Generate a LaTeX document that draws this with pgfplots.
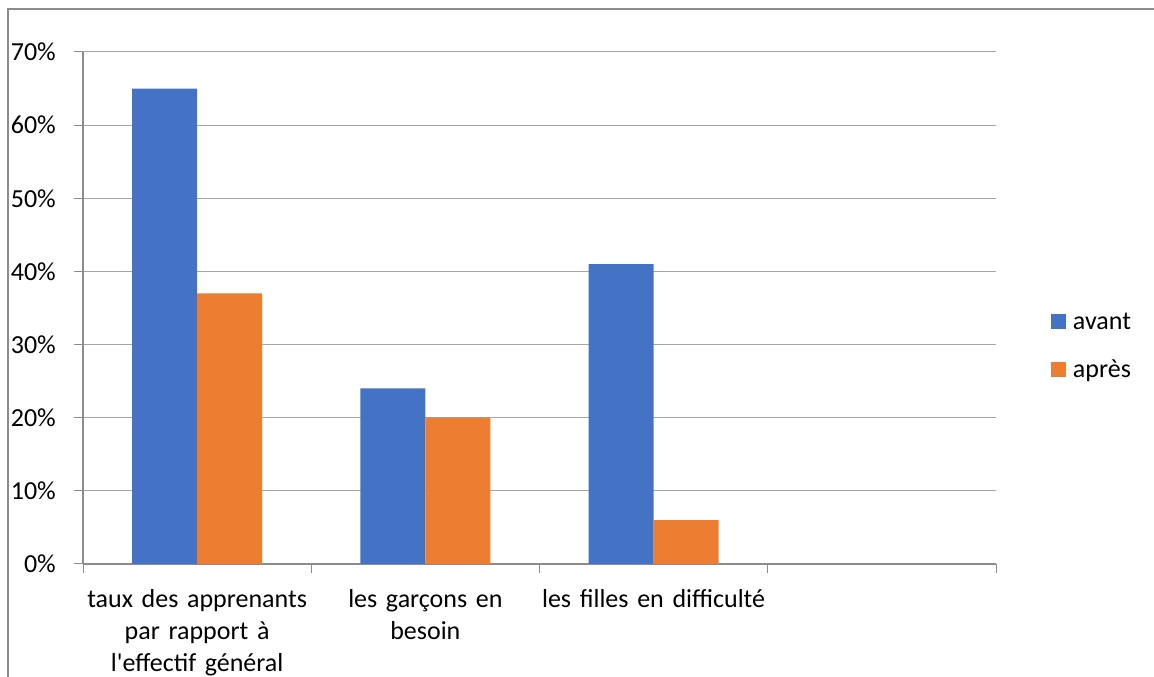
\documentclass[border=0pt]{standalone}
\usepackage{fontspec}
\setmainfont{Carlito}[Ligatures=TeXOff]
\usepackage{pgfplots}
\pgfplotsset{compat=1.18}
\definecolor{cblue}{HTML}{4472C4}
\definecolor{corange}{HTML}{ED7D31}
\definecolor{gridc}{RGB}{166,166,166}
\definecolor{axc}{RGB}{140,140,140}
\newcommand{\cfont}{\fontsize{26bp}{32bp}\selectfont}
\begin{document}
\begin{tikzpicture}[x=1bp,y=1bp]
\useasboundingbox (0,0) rectangle (1154,677);
\draw[axc, line width=1.2bp] (8,0) -- (8,668) -- (1154,668);
\begin{axis}[
  at={(83bp,113bp)}, anchor=south west,
  width=913bp, height=512bp, scale only axis,
  xmin=-0.5, xmax=3.5, ymin=0, ymax=70,
  ybar=0pt, bar width=0.2848,
  axis x line=bottom, axis y line=left,
  axis line style={-, axc, line width=1.2bp},
  xtick={0,1,2},
  xticklabels={{taux des apprenants\\par rapport à\\l'effectif général},{les garçons en\\besoin},{les filles en difficulté}},
  major x tick style={draw=none},
  minor xtick={-0.5,0.5,1.5,2.5,3.5},
  minor tick length=9bp,
  ytick={0,10,20,30,40,50,60,70},
  yticklabels={0\%,10\%,20\%,30\%,40\%,50\%,60\%,70\%},
  minor ytick={},
  ymajorgrids, grid style={gridc, line width=1bp},
  tick align=outside, major tick length=9bp,
  tick style={axc, line width=1bp},
  ticklabel style={font=\cfont, text=black},
  xticklabel style={text width=240bp, align=center, anchor=north, inner sep=0pt, yshift=-16bp},
  yticklabel style={anchor=east, inner sep=0pt, xshift=-18bp},
  legend style={at={(1.06,0.426)}, anchor=west, draw=none, fill=none, font=\cfont, row sep=25bp, inner sep=0pt},
  legend cell align=left,
]
\addplot[fill=cblue, draw=none, legend image code/.code={\fill[cblue] (0bp,-7.5bp) rectangle (15bp,7.5bp); \path (15bp,0) -- (20bp,0);}] coordinates {(0,65) (1,24) (2,41)};
\addplot[fill=corange, draw=none, legend image code/.code={\fill[corange] (0bp,-7.5bp) rectangle (15bp,7.5bp); \path (15bp,0) -- (20bp,0);}] coordinates {(0,37) (1,20) (2,6)};
\legend{avant,après}
\end{axis}
\end{tikzpicture}
\end{document}
